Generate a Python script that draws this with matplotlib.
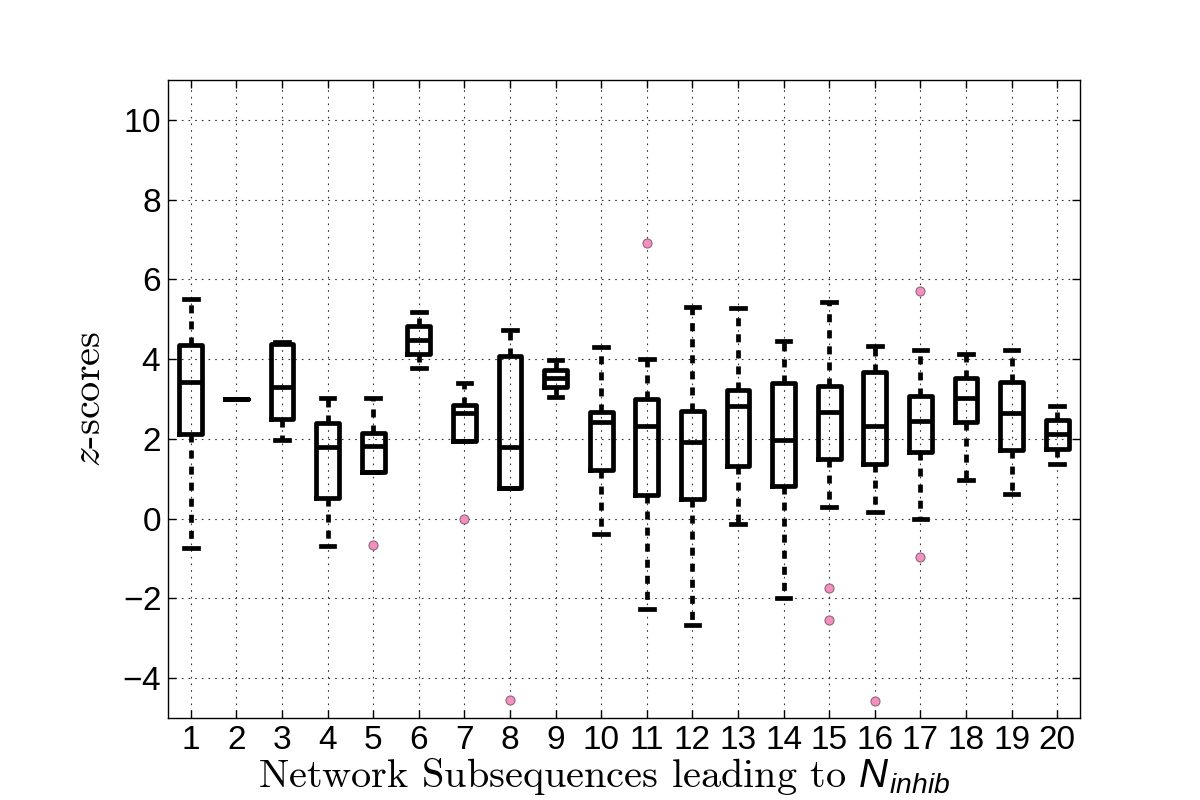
import matplotlib
matplotlib.use("Agg")
import matplotlib.pyplot as plt

positions = list(range(1, 21))
tick_labels = [str(i) for i in positions]
whishi = [5.5, 3.0, 4.43, 3.02, 3.02, 5.18, 3.4, 4.72, 3.98, 4.31,
          4.0, 5.3, 5.27, 4.46, 5.43, 4.33, 4.23, 4.13, 4.23, 2.83]
q3 = [4.36, 3.0, 4.37, 2.39, 2.14, 4.83, 2.85, 4.08, 3.73, 2.68,
      3.0, 2.71, 3.23, 3.39, 3.33, 3.68, 3.07, 3.52, 3.43, 2.48]
med = [3.42, 3.0, 3.29, 1.79, 1.82, 4.48, 2.66, 1.79, 3.52, 2.42,
       2.33, 1.91, 2.83, 1.98, 2.67, 2.33, 2.46, 3.02, 2.64, 2.11]
q1 = [2.11, 3.0, 2.5, 0.52, 1.18, 4.12, 1.94, 0.78, 3.29, 1.21,
      0.58, 0.48, 1.32, 0.81, 1.5, 1.36, 1.68, 2.42, 1.73, 1.75]
whislo = [-0.73, 3.0, 1.96, -0.68, 1.18, 3.78, 1.94, 0.78, 3.06, -0.39,
          -2.27, -2.68, -0.14, -1.98, 0.28, 0.16, -0.02, 0.98, 0.63, 1.36]
fliers = [[], [], [], [], [-0.67], [], [-0.02], [-4.55], [], [],
          [6.92], [], [], [], [-1.75, -2.53], [-4.58], [5.72, -0.96], [], [], []]

stats = []
for i in range(len(positions)):
    stats.append(dict(med=med[i], q1=q1[i], q3=q3[i], whislo=whislo[i],
                      whishi=whishi[i], fliers=fliers[i]))

plt.rcParams['mathtext.fontset'] = 'custom'
plt.rcParams['mathtext.it'] = 'cmmi10'
plt.rcParams['mathtext.rm'] = 'Liberation Sans'
plt.rcParams['mathtext.sf'] = 'Liberation Sans:italic'
plt.rcParams['axes.formatter.use_mathtext'] = False

fig = plt.figure(figsize=(12, 8), dpi=100)
ax = fig.add_axes([0.14, 0.1025, 0.76, 0.7975])

lw = 3.4
ax.bxp(stats, positions=positions, widths=0.5, capwidths=0.3,
       boxprops=dict(color='black', linewidth=lw),
       medianprops=dict(color='black', linewidth=lw),
       whiskerprops=dict(color='black', linewidth=lw, linestyle=(0, (1.7, 1.7))),
       capprops=dict(color='black', linewidth=lw),
       flierprops=dict(marker='o', markerfacecolor='#f48fbf', markeredgecolor='#8a6a78',
                       markeredgewidth=0.8, markersize=6.5, linestyle='none'))

ax.set_xlim(0.5, 20.5)
ax.set_ylim(-5, 11)
ax.set_xticks(positions)
ax.set_xticklabels(tick_labels)
ax.set_yticks([-4, -2, 0, 2, 4, 6, 8, 10])
ax.set_yticklabels(['$-4$', '$-2$', '$0$', '$2$', '$4$', '$6$', '$8$', '$10$'])
ax.grid(True, color='#333333', linestyle=(0, (1.5, 4.5)), linewidth=0.8)
ax.set_axisbelow(True)
ax.tick_params(direction='in', top=True, right=True, length=6, width=1,
               labelsize=24, pad=5)
for lab in ax.get_xticklabels() + ax.get_yticklabels():
    lab.set_fontfamily('Liberation Sans')
for s in ax.spines.values():
    s.set_linewidth(1)

ax.set_xlabel(r'Network Subsequences leading to $\mathsf{N}_{\mathsf{inhib}}$',
              fontfamily='cmr10', fontsize=29, labelpad=0)
ax.xaxis.label.set_x(0.478)
ax.set_ylabel('$z$-scores', fontfamily='cmr10', fontsize=29, labelpad=10)

fig.savefig('out.png', dpi=100)
